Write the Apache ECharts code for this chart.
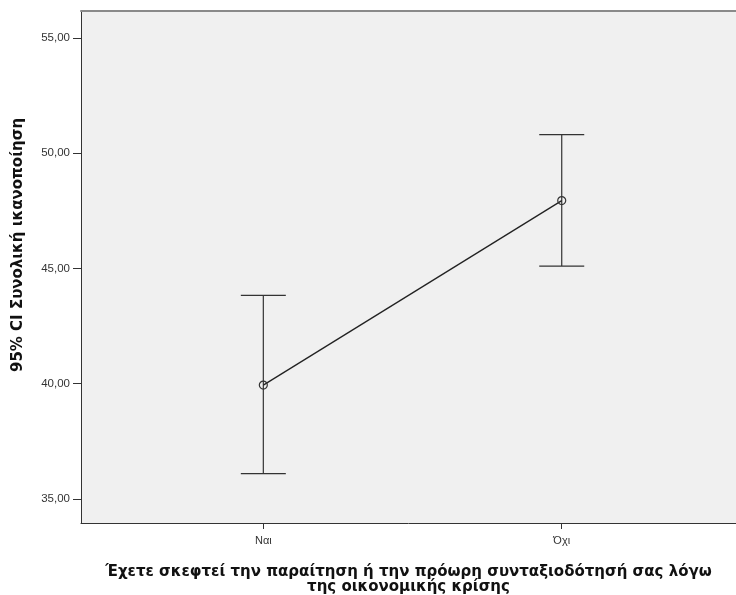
<!DOCTYPE html>
<html>
<head>
<meta charset="utf-8">
<script src="https://cdn.jsdelivr.net/npm/echarts@6/dist/echarts.min.js"></script>
<style>
  html, body { margin: 0; padding: 0; background: #fff; }
  #chart { width: 736px; height: 595px; }
</style>
</head>
<body>
<div id="chart"></div>
<script>
// Group labels and 95% confidence intervals
var categories = ['Ναι', 'Όχι'];
var means = [39.94, 47.94];
var lowerCI = [36.10, 45.10];
var upperCI = [43.83, 50.80];
var yTicks = [35, 40, 45, 50, 55];

var yTitle = '95% CI Συνολική ικανοποίηση';
var xTitle = 'Έχετε σκεφτεί την παραίτηση ή την πρόωρη συνταξιοδότησή σας λόγω\nτης οικονομικής κρίσης';

var tickFont = '"Liberation Sans", Arial, sans-serif';
var titleFont = '"DejaVu Sans", Verdana, sans-serif';
var chart = echarts.init(document.getElementById('chart'));

var positions = categories.map(function (c, i) { return i + 1; });
var meanData = means.map(function (m, i) { return [positions[i], m]; });
var ciData = means.map(function (m, i) { return [positions[i], lowerCI[i], upperCI[i]]; });

chart.setOption({
  animation: false,
  backgroundColor: '#ffffff',
  grid: {
    left: 81, right: 0, top: 11, bottom: 72,
    outerBoundsMode: 'none',
    containLabel: false,
    show: true, backgroundColor: '#f0f0f0', borderWidth: 0
  },
  xAxis: [{
    type: 'value',
    min: 0.389, max: 2.584,
    splitLine: { show: false },
    axisLine: { show: true, onZero: false, lineStyle: { color: '#333', width: 1 } },
    axisTick: { show: true, length: 6, lineStyle: { color: '#333' }, customValues: positions },
    axisLabel: {
      customValues: positions,
      formatter: function (v) { return categories[Math.round(v) - 1] || ''; },
      color: '#333', fontFamily: tickFont, fontSize: 11, margin: 12
    },
    name: xTitle,
    nameLocation: 'middle',
    nameGap: 42,
    nameTextStyle: { fontFamily: titleFont, fontSize: 15, fontWeight: 'bold', color: '#111', lineHeight: 15 }
  }, {
    // plain frame line along the top of the plot
    type: 'value',
    position: 'top',
    min: 0.389, max: 2.584,
    splitLine: { show: false },
    axisLine: { show: true, onZero: false, lineStyle: { color: '#8a8a8a', width: 2 } },
    axisTick: { show: false },
    axisLabel: { show: false }
  }],
  yAxis: {
    type: 'value',
    min: 33.96, max: 56.16,
    splitLine: { show: false },
    axisLine: { show: true, onZero: false, lineStyle: { color: '#333', width: 1 } },
    axisTick: { show: true, length: 8, lineStyle: { color: '#333' }, customValues: yTicks },
    axisLabel: {
      customValues: yTicks,
      formatter: function (v) { return v.toFixed(2).replace('.', ','); },
      color: '#333', fontFamily: tickFont, fontSize: 11.5, margin: 11
    }
  },
  graphic: [{
    type: 'text',
    x: 18, y: 245,
    rotation: Math.PI / 2,
    style: {
      text: yTitle,
      fill: '#111',
      font: 'bold 15px ' + titleFont,
      align: 'center',
      verticalAlign: 'middle'
    }
  }],
  series: [
    {
      type: 'custom',
      data: ciData,
      renderItem: function (params, api) {
        var x = api.value(0);
        var lo = api.coord([x, api.value(1)]);
        var hi = api.coord([x, api.value(2)]);
        var half = 22.5;
        var style = { stroke: '#333', lineWidth: 1.2 };
        return {
          type: 'group',
          children: [
            { type: 'line', shape: { x1: lo[0], y1: lo[1], x2: hi[0], y2: hi[1] }, style: style },
            { type: 'line', shape: { x1: lo[0] - half, y1: lo[1], x2: lo[0] + half, y2: lo[1] }, style: style },
            { type: 'line', shape: { x1: hi[0] - half, y1: hi[1], x2: hi[0] + half, y2: hi[1] }, style: style }
          ]
        };
      },
      z: 2
    },
    {
      type: 'line',
      data: meanData,
      symbol: 'circle',
      symbolSize: 8,
      lineStyle: { color: '#222', width: 1.3 },
      itemStyle: { color: 'rgba(0,0,0,0)', borderColor: '#333', borderWidth: 1.2 },
      z: 3
    }
  ]
});
</script>
</body>
</html>
